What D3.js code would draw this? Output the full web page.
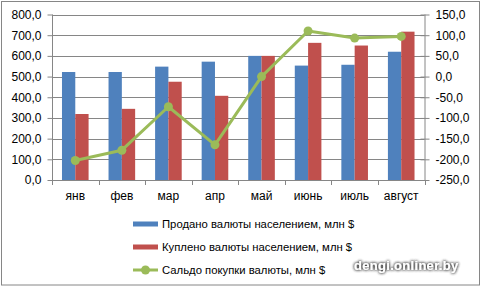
<!DOCTYPE html>
<html>
<head>
<meta charset="utf-8">
<script src="https://cdn.jsdelivr.net/npm/d3@7"></script>
<style>
  body { margin: 0; background: #fff; }
  text { font-family: "Liberation Sans", Arial, sans-serif; fill: #000; }
</style>
</head>
<body>
<div id="chart"></div>
<script>
// data
var months = ["янв", "фев", "мар", "апр", "май", "июнь", "июль", "август"];
var sold = [522, 522, 548, 572, 600, 553, 557, 620];
var bought = [319, 344, 475, 407, 600, 663, 650, 717];
var saldo = [-203, -178, -73, -165, 0, 110, 93, 97];
var leftTicks = [0, 100, 200, 300, 400, 500, 600, 700, 800];
var rightTicks = [-250, -200, -150, -100, -50, 0, 50, 100, 150];
var seriesNames = ["Продано валюты населением, млн $", "Куплено валюты населением, млн $", "Сальдо покупки валюты, млн $"];

var W = 481, H = 288;
var plot = {left: 52, right: 424.5, top: 14.5, bottom: 180};
var blue = "#4f81bd", red = "#c0504d", green = "#9bbb59", grid = "#868686";

var fmt = function(v) { return d3.format(".1f")(v).replace(".", ",").replace("−", "-"); };

var svg = d3.select("#chart").append("svg")
  .attr("width", W).attr("height", H);

// outer frame
svg.append("rect")
  .attr("x", 1.5).attr("y", 1.5).attr("width", W - 3).attr("height", H - 4.5)
  .attr("fill", "#fff").attr("stroke", grid).attr("stroke-width", 1);

var x = d3.scaleBand().domain(months).range([plot.left, plot.right]);
var bw = x.bandwidth() / 3.5; // gap width 150%
var yL = d3.scaleLinear().domain([0, 800]).range([plot.bottom, plot.top]);
var yR = d3.scaleLinear().domain([-250, 150]).range([plot.bottom, plot.top]);

// gridlines
svg.append("g").selectAll("line").data(leftTicks.slice(1)).enter().append("line")
  .attr("x1", plot.left).attr("x2", plot.right)
  .attr("y1", function(d) { return Math.round(yL(d)) + 0.5; })
  .attr("y2", function(d) { return Math.round(yL(d)) + 0.5; })
  .attr("stroke", grid).attr("stroke-width", 1);

// bars
var bars = svg.append("g");
bars.selectAll(".sold").data(sold).enter().append("rect")
  .attr("x", function(d, i) { return x(months[i]) + x.bandwidth() / 2 - bw; })
  .attr("y", function(d) { return yL(d); })
  .attr("width", bw)
  .attr("height", function(d) { return plot.bottom - yL(d); })
  .attr("fill", blue);
bars.selectAll(".bought").data(bought).enter().append("rect")
  .attr("x", function(d, i) { return x(months[i]) + x.bandwidth() / 2; })
  .attr("y", function(d) { return yL(d); })
  .attr("width", bw)
  .attr("height", function(d) { return plot.bottom - yL(d); })
  .attr("fill", red);

// left axis
var axL = svg.append("g").attr("transform", "translate(" + (plot.left + 0.5) + ",0)")
  .call(d3.axisLeft(yL).tickValues(leftTicks).tickSize(5).tickPadding(6).tickFormat(fmt));
// right axis, ticks crossing
var axR = svg.append("g").attr("transform", "translate(" + (plot.right + 0.5) + ",0)")
  .call(d3.axisRight(yR).tickValues(rightTicks).tickSize(4.5).tickPadding(6).tickFormat(fmt));
axR.selectAll(".tick line").attr("x1", -4.5);
// bottom axis
var axB = svg.append("g").attr("transform", "translate(0," + (plot.bottom + 0.5) + ")")
  .call(d3.axisBottom(x).tickSize(0).tickPadding(11));
svg.append("g").selectAll("line").data(d3.range(months.length + 1)).enter().append("line")
  .attr("x1", function(i) { return Math.round(plot.left + i * x.step()) + 0.5; })
  .attr("x2", function(i) { return Math.round(plot.left + i * x.step()) + 0.5; })
  .attr("y1", plot.bottom).attr("y2", plot.bottom + 5)
  .attr("stroke", grid);

[axL, axR, axB].forEach(function(a) {
  a.select(".domain").attr("stroke", grid);
  a.selectAll(".tick line").attr("stroke", grid);
  a.selectAll("text").attr("font-size", "12px").attr("fill", "#000")
    .style("font-family", "'Liberation Sans', Arial, sans-serif");
});
axL.select(".domain").attr("d", "M0," + plot.top + "V" + plot.bottom);
axR.select(".domain").attr("d", "M0," + plot.top + "V" + plot.bottom);
axB.select(".domain").attr("d", "M" + plot.left + ",0H" + plot.right);

// saldo line
var line = d3.line()
  .x(function(d, i) { return x(months[i]) + x.bandwidth() / 2; })
  .y(function(d) { return yR(d); });
svg.append("path").datum(saldo).attr("d", line)
  .attr("fill", "none").attr("stroke", green).attr("stroke-width", 3)
  .attr("stroke-linejoin", "round");
svg.append("g").selectAll("circle").data(saldo).enter().append("circle")
  .attr("cx", function(d, i) { return x(months[i]) + x.bandwidth() / 2; })
  .attr("cy", function(d) { return yR(d); })
  .attr("r", 4.5).attr("fill", green);

// legend
var legend = svg.append("g").attr("transform", "translate(133,0)")
  .selectAll("g").data(seriesNames).enter().append("g")
  .attr("transform", function(d, i) { return "translate(0," + (224 + i * 23) + ")"; });
legend.each(function(d, i) {
  var g = d3.select(this);
  if (i < 2) {
    g.append("rect").attr("x", 0).attr("y", -2.5).attr("width", 25).attr("height", 5)
      .attr("fill", i === 0 ? blue : red);
  } else {
    g.append("line").attr("x1", 0).attr("x2", 25).attr("y1", 0).attr("y2", 0)
      .attr("stroke", green).attr("stroke-width", 3);
    g.append("circle").attr("cx", 12.5).attr("cy", 0).attr("r", 4.5).attr("fill", green);
  }
  g.append("text").attr("x", 29).attr("y", 4.2).attr("font-size", "11.3px").text(d);
});

// watermark
var defs = svg.append("defs");
var f = defs.append("filter").attr("id", "shadow").attr("x", "-20%").attr("y", "-50%")
  .attr("width", "140%").attr("height", "200%");
f.append("feGaussianBlur").attr("in", "SourceAlpha").attr("stdDeviation", 1.6).attr("result", "b");
f.append("feFlood").attr("flood-color", "#333").attr("result", "c");
f.append("feComposite").attr("in", "c").attr("in2", "b").attr("operator", "in").attr("result", "s");
var m = f.append("feMerge");
m.append("feMergeNode").attr("in", "s");
m.append("feMergeNode").attr("in", "s");
m.append("feMergeNode").attr("in", "SourceGraphic");
svg.append("text").attr("x", 354).attr("y", 270)
  .attr("font-size", "13px").attr("font-weight", "bold")
  .style("fill", "#fff")
  .attr("filter", "url(#shadow)").attr("letter-spacing", "0.3")
  .text("dengi.onliner.by");
</script>
</body>
</html>
